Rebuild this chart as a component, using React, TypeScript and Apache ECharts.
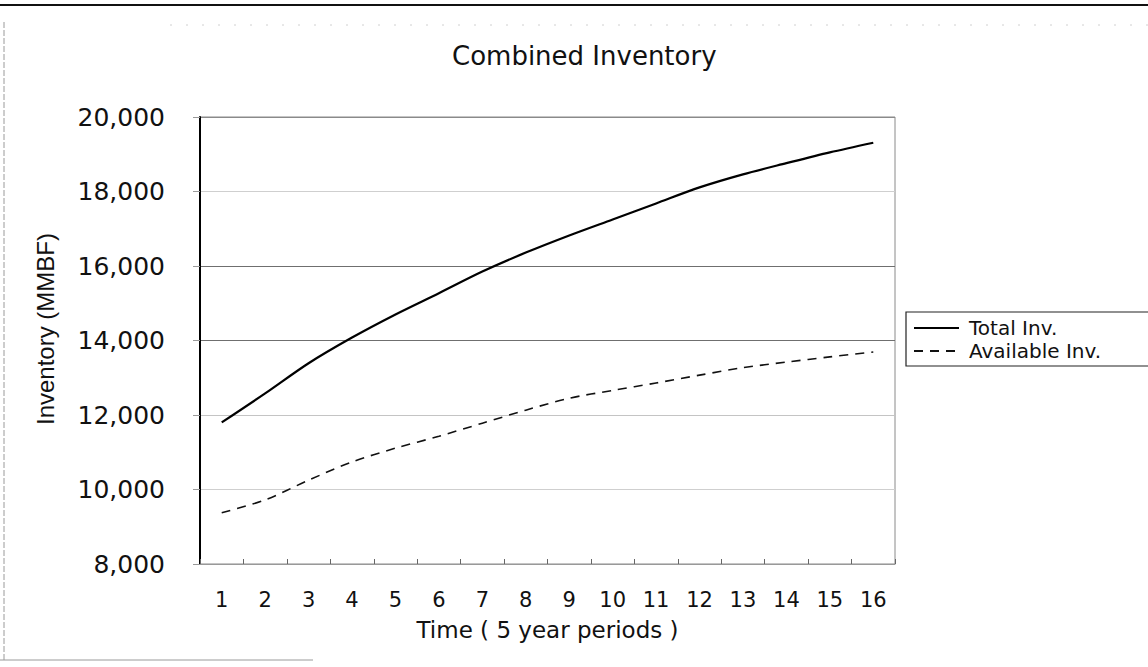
import React, { useEffect, useRef } from "react";
import * as echarts from "echarts";

const periods = ["1", "2", "3", "4", "5", "6", "7", "8", "9", "10", "11", "12", "13", "14", "15", "16"];
const totalInv = [11800, 12580, 13390, 14080, 14700, 15270, 15850, 16360, 16820, 17250, 17680, 18110, 18460, 18760, 19050, 19310];
const availableInv = [9375, 9720, 10250, 10740, 11110, 11430, 11780, 12130, 12450, 12660, 12860, 13070, 13270, 13420, 13560, 13690];
const yMin = 8000;
const yMax = 20000;
const yStep = 2000;

const FONT = "DejaVu Sans";

export default function App() {
  const ref = useRef<HTMLDivElement>(null);
  useEffect(() => {
    if (!ref.current) return;
    const chart = echarts.init(ref.current, undefined, { renderer: "svg" });
    chart.setOption({
      animation: false,
      backgroundColor: "#ffffff",
      title: {
        text: "Combined Inventory",
        left: 452,
        top: 43,
        padding: 0,
        textStyle: { fontFamily: FONT, fontSize: 26, fontWeight: "normal", color: "#111" },
      },
      grid: {
        left: 200,
        right: 253,
        top: 117,
        bottom: 103,
        show: true,
        borderColor: "#8a8a8a",
        borderWidth: 1,
        backgroundColor: "transparent",
      },
      legend: {
        left: 906,
        top: 312,
        orient: "vertical",
        padding: [6, 60, 5, 7],
        itemGap: 3,
        itemWidth: 45,
        itemHeight: 14,
        borderColor: "#222",
        borderWidth: 1.2,
        itemStyle: { opacity: 0 },
        textStyle: { fontFamily: FONT, fontSize: 20, lineHeight: 20, color: "#111", padding: [0, 0, 0, 5] },
        data: ["Total Inv.", "Available Inv."],
      },
      xAxis: {
        type: "category",
        data: periods,
        boundaryGap: true,
        name: "Time ( 5 year periods )",
        nameLocation: "middle",
        nameGap: 54,
        nameTextStyle: { fontFamily: FONT, fontSize: 23, color: "#111" },
        axisLine: { show: true, lineStyle: { color: "#999", width: 1 } },
        axisTick: { show: true, inside: true, length: 5, lineStyle: { color: "#666" } },
        axisLabel: { fontFamily: FONT, fontSize: 21, color: "#111", margin: 25 },
        splitLine: { show: false },
      },
      yAxis: {
        type: "value",
        min: yMin,
        max: yMax,
        interval: yStep,
        axisLine: { show: true, onZero: false, lineStyle: { color: "#000", width: 2 } },
        axisTick: { show: true, length: 7, lineStyle: { color: "#999" } },
        axisLabel: {
          fontFamily: FONT,
          fontSize: 25,
          color: "#111",
          margin: 35,
          formatter: (v: number) => v.toLocaleString("en-US"),
        },
        splitLine: {
          show: true,
          lineStyle: {
            color: ["#999", "#cfcfcf", "#c4c4c4", "#6f6f6f", "#6f6f6f", "#cfcfcf", "#8a8a8a"],
            width: 1,
          },
        },
      },
      series: [
        {
          name: "Total Inv.",
          type: "line",
          data: totalInv,
          smooth: 0.3,
          symbol: "none",
          lineStyle: { color: "#000", width: 2.2, type: "solid" },
          itemStyle: { color: "#000" },
        },
        {
          name: "Available Inv.",
          type: "line",
          data: availableInv,
          smooth: 0.3,
          symbol: "none",
          lineStyle: { color: "#111", width: 1.6, type: [9, 7] },
          itemStyle: { color: "#111" },
        },
      ],
      graphic: [
        {
          type: "line",
          shape: { x1: 0, y1: 5, x2: 1148, y2: 5 },
          style: { stroke: "#111", lineWidth: 2 },
          silent: true,
        },
        {
          type: "line",
          shape: { x1: 170, y1: 25, x2: 1148, y2: 25 },
          style: { stroke: "#d0d0d0", lineWidth: 1, lineDash: [2, 14] },
          silent: true,
        },
        {
          type: "line",
          shape: { x1: 4, y1: 22, x2: 4, y2: 660 },
          style: { stroke: "#9a9a9a", lineWidth: 1, lineDash: [6, 2] },
          silent: true,
        },
        {
          type: "line",
          shape: { x1: 0, y1: 660, x2: 313, y2: 660 },
          style: { stroke: "#9a9a9a", lineWidth: 1 },
          silent: true,
        },
        {
          type: "text",
          x: 45,
          y: 329,
          rotation: Math.PI / 2,
          style: {
            text: "Inventory (MMBF)",
            fontFamily: "Liberation Sans",
            fontSize: 24,
            fill: "#111",
            align: "center",
            verticalAlign: "middle",
          },
        },
      ],
    });
    return () => chart.dispose();
  }, []);
  return <div ref={ref} style={{ position: "fixed", left: 0, top: 0, width: 1148, height: 667 }} />;
}
